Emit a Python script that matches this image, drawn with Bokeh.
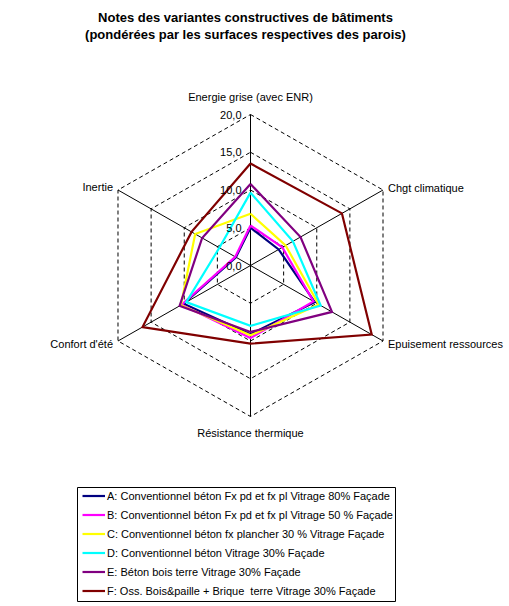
import numpy as np
from bokeh.plotting import figure
from bokeh.models import Range1d, Legend, LegendItem, Label, ColumnDataSource
from bokeh.embed import file_html
from bokeh.resources import INLINE

# ---------------- data ----------------
title_lines = ["Notes des variantes constructives de bâtiments",
               "(pondérées par les surfaces respectives des parois)"]

categories = ["Energie grise (avec ENR)", "Chgt climatique", "Epuisement ressources",
              "Résistance thermique", "Confort d'été", "Inertie"]

series_labels = [
    "A: Conventionnel béton Fx pd et fx pl Vitrage 80% Façade",
    "B: Conventionnel béton Fx pd et fx pl Vitrage 50 % Façade",
    "C: Conventionnel béton fx plancher 30 % Vitrage Façade",
    "D: Conventionnel béton Vitrage 30% Façade",
    "E: Béton bois terre Vitrage 30% Façade",
    "F: Oss. Bois&paille + Brique  terre Vitrage 30% Façade",
]

val_A = [5.0, 4.25, 9.7, 9.1, 10.1, 2.2]
val_B = [5.3, 4.8, 9.5, 9.6, 10.4, 2.3]
val_C = [6.85, 5.3, 10.3, 9.25, 10.5, 8.35]
val_D = [9.65, 6.4, 10.6, 8.0, 9.7, 4.7]
val_E = [10.8, 7.55, 12.3, 8.8, 10.7, 7.3]
val_F = [13.5, 13.8, 18.3, 10.35, 16.3, 8.9]

tick_values = [0, 5, 10, 15, 20]
tick_labels = ["0,0", "5,0", "10,0", "15,0", "20,0"]

colors = ["#000080", "#FF00FF", "#FFFF00", "#00FFFF", "#800080", "#800000"]

# ---------------- layout ----------------
W, H = 509, 606
CX, CY = 250, 265        # centre of the radar (pixels)
SX, SY = 7.65, 7.55      # pixels per value unit
FONT = "Liberation Sans"

p = figure(width=W, height=H, x_range=Range1d(-CX / SX, (W - CX) / SX),
           y_range=Range1d(-(H - CY) / SY, CY / SY),
           x_axis_type=None, y_axis_type=None, toolbar_location=None,
           output_backend="svg", min_border=0)
p.grid.visible = False
p.outline_line_color = None
p.background_fill_color = "white"

n = len(categories)
angles = np.deg2rad(90 - 360.0 / n * np.arange(n))
vmax = tick_values[-1]


def polar(vals):
    v = np.asarray(vals, dtype=float)
    return list(v * np.cos(angles)), list(v * np.sin(angles))


# dashed hexagonal grid
gxs, gys = [], []
for t in tick_values[1:]:
    xs, ys = polar([t] * n)
    gxs.append(xs + xs[:1])
    gys.append(ys + ys[:1])
p.multi_line(gxs, gys, line_color="black", line_width=1, line_dash="4 3")

# spokes
sxs, sys_ = [], []
ex, ey = polar([vmax] * n)
for i in range(n):
    sxs.append([0, ex[i]])
    sys_.append([0, ey[i]])
p.multi_line(sxs, sys_, line_color="black", line_width=1)

# series
renderers = []
for vals, col in zip([val_A, val_B, val_C, val_D, val_E, val_F], colors):
    xs, ys = polar(vals)
    r = p.line(xs + xs[:1], ys + ys[:1], line_color=col, line_width=2.2, line_join="miter")
    renderers.append(r)

# tick labels on the first (vertical) axis
for t, lab in zip(tick_values, tick_labels):
    p.add_layout(Label(x=0, y=t, text=lab, x_offset=-9, text_align="right",
                       text_baseline="middle", text_font=FONT, text_font_size="11px",
                       text_color="black"))

# category labels
cat_fmt = [
    dict(x_offset=0, y_offset=18, text_align="center"),
    dict(x_offset=5, y_offset=2, text_align="left"),
    dict(x_offset=5, y_offset=-3, text_align="left"),
    dict(x_offset=0, y_offset=-16, text_align="center"),
    dict(x_offset=-5, y_offset=-3, text_align="right"),
    dict(x_offset=-5, y_offset=3, text_align="right"),
]
for i, (cat, fmt) in enumerate(zip(categories, cat_fmt)):
    p.add_layout(Label(x=ex[i], y=ey[i], text=cat, text_baseline="middle",
                       text_font=FONT, text_font_size="11px", text_color="black", **fmt))

# title
for j, line in enumerate(title_lines):
    p.add_layout(Label(x=245, y=H - 17 - 17 * j, x_units="screen", y_units="screen",
                       text=line, text_align="center", text_baseline="middle",
                       text_font=FONT, text_font_size="13px", text_font_style="bold",
                       text_color="black"))

# legend frame
def dx(px):
    return (px - CX) / SX


def dy(py):
    return (CY - py) / SY


p.quad(left=dx(77), right=dx(395), top=dy(487), bottom=dy(601),
       fill_color="white", line_color="black", line_width=1)

legend = Legend(items=[LegendItem(label=lab, renderers=[r]) for lab, r in zip(series_labels, renderers)],
                location=(82, 6), padding=0, spacing=0, margin=0,
                label_height=19, glyph_height=19, glyph_width=23, label_standoff=2,
                border_line_alpha=0, background_fill_alpha=0,
                label_text_font=FONT, label_text_font_size="11px", label_text_color="black")
p.add_layout(legend, "center")

open("out.html", "w").write(file_html(p, INLINE))
